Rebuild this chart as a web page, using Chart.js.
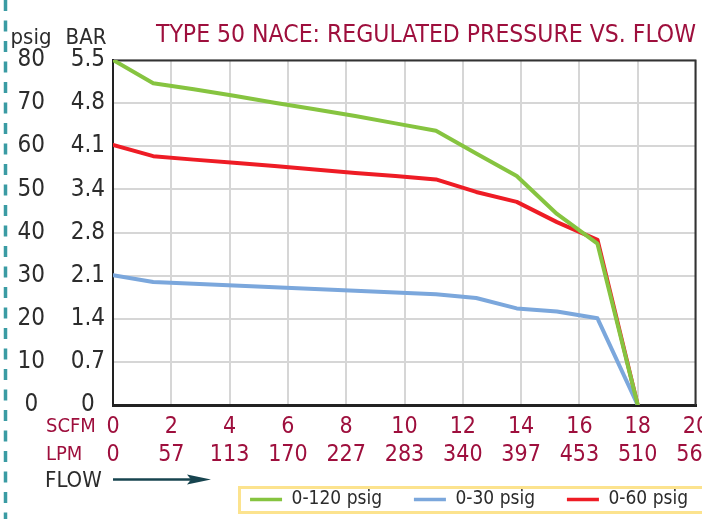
<!DOCTYPE html>
<html><head><meta charset="utf-8">
<script src="https://cdn.jsdelivr.net/npm/chart.js@4.4.1/dist/chart.umd.min.js"></script>
<style>html,body{margin:0;padding:0;background:#fff;overflow:hidden}</style>
</head><body>
<canvas id="c" width="702" height="519"></canvas>
<script>
// ---- data ----
const flowScfm = [0, 1.38, 2.77, 4.15, 5.54, 6.92, 8.31, 9.69, 11.08, 12.46, 13.85, 15.23, 16.62, 18];
const p0_120 = [80, 74.6, 73.2, 71.7, 70.1, 68.6, 67.0, 65.3, 63.6, 58.3, 53.1, 44.3, 37.4, 0];
const p0_30  = [30.1, 28.5, 28.1, 27.7, 27.3, 26.9, 26.5, 26.1, 25.7, 24.8, 22.4, 21.7, 20.1, 0];
const p0_60  = [60.3, 57.7, 56.9, 56.2, 55.4, 54.6, 53.8, 53.1, 52.3, 49.4, 47.1, 42.4, 38.3, 0];
const seriesLabels = ['0-120 psig', '0-30 psig', '0-60 psig'];
const scfmTicks = ['0','2','4','6','8','10','12','14','16','18','20'];
const lpmTicks  = ['0','57','113','170','227','283','340','397','453','510','566'];
const psigTicks = ['0','10','20','30','40','50','60','70','80'];
const barTicks  = ['0','0.7','1.4','2.1','2.8','3.4','4.1','4.8','5.5'];
const titleText = 'TYPE 50 NACE: REGULATED PRESSURE VS. FLOW';

// ---- styles ----
const FONT = "'Liberation Sans Narrow', 'DejaVu Sans Condensed', 'Arial Narrow', sans-serif";
const CRIMSON = '#9e0f3d';
const DARK = '#2c2c2c';
const GRID = '#d6d6d6';
const COLORS = ['#86c440', '#7ba7dc', '#ee1c25'];
const GAP = '\u2002\u2002\u2009\u2009';

const pts = ys => flowScfm.map((x, i) => ({x, y: ys[i]}));

const decor = {
  id: 'decor',
  beforeDatasetsDraw(chart) {
    const {ctx, chartArea: a} = chart;
    ctx.save();
    ctx.strokeStyle = '#333';
    ctx.lineWidth = 2;
    ctx.beginPath();
    ctx.moveTo(a.left, a.top + 0.5);
    ctx.lineTo(a.right - 0.5, a.top + 0.5);
    ctx.lineTo(a.right - 0.5, a.bottom);
    ctx.stroke();
    ctx.restore();
  },
  afterDraw(chart) {
    const {ctx, chartArea: a} = chart;
    ctx.save();
    // dashed teal rule
    ctx.strokeStyle = '#3a9ba3';
    ctx.lineWidth = 3.5;
    ctx.setLineDash([11, 9.5]);
    ctx.beginPath(); ctx.moveTo(5.5, 0); ctx.lineTo(5.5, 519); ctx.stroke();
    ctx.setLineDash([]);
    // column headers
    ctx.fillStyle = DARK;
    ctx.textBaseline = 'middle';
    ctx.textAlign = 'center';
    ctx.font = '22px ' + FONT;
    ctx.fillText('psig', 31, 38);
    ctx.fillText('BAR', 86, 38);
    // row headers
    ctx.textAlign = 'left';
    ctx.font = '20px ' + FONT;
    ctx.fillStyle = CRIMSON;
    ctx.fillText('SCFM', 46, 427);
    ctx.fillText('LPM', 46, 455);
    ctx.fillStyle = DARK;
    ctx.font = '22px ' + FONT;
    ctx.fillText('FLOW', 45, 481);
    // arrow
    ctx.strokeStyle = '#17444f';
    ctx.fillStyle = '#17444f';
    ctx.lineWidth = 2.5;
    ctx.beginPath(); ctx.moveTo(a.left, 479.5); ctx.lineTo(195, 479.5); ctx.stroke();
    ctx.beginPath(); ctx.moveTo(187, 474.5); ctx.lineTo(211, 479.5); ctx.lineTo(187, 484.5); ctx.lineTo(191, 479.5); ctx.closePath(); ctx.fill();
    // legend frame
    ctx.strokeStyle = '#fce38e';
    ctx.lineWidth = 3;
    ctx.strokeRect(239.5, 487.5, 480, 25);
    ctx.restore();
  }
};

new Chart(document.getElementById('c'), {
  type: 'line',
  data: {
    datasets: [
      {label: seriesLabels[0], data: pts(p0_120), borderColor: COLORS[0], backgroundColor: COLORS[0]},
      {label: seriesLabels[1], data: pts(p0_30),  borderColor: COLORS[1], backgroundColor: COLORS[1]},
      {label: seriesLabels[2], data: pts(p0_60),  borderColor: COLORS[2], backgroundColor: COLORS[2]}
    ]
  },
  options: {
    responsive: false,
    animation: false,
    devicePixelRatio: 1,
    layout: {padding: {left: 0, right: 6, top: 0, bottom: 0}},
    elements: {
      line: {borderWidth: 4, tension: 0, fill: false, borderCapStyle: 'round', borderJoinStyle: 'round'},
      point: {radius: 0, hoverRadius: 0}
    },
    scales: {
      x: {
        type: 'linear', position: 'bottom', min: 0, max: 20,
        ticks: {
          stepSize: 2, autoSkip: false, maxRotation: 0, minRotation: 0, padding: 8,
          color: CRIMSON, font: {family: FONT, size: 23, lineHeight: 28 / 23},
          callback: (v, i) => [scfmTicks[i], lpmTicks[i]]
        },
        grid: {color: GRID, lineWidth: 2, drawTicks: false},
        border: {color: '#222', width: 3},
        afterFit(s) { s.height = 77; s.paddingLeft = 0; s.paddingRight = 0; }
      },
      y: {
        type: 'linear', position: 'left', weight: 2, min: 0, max: 80,
        ticks: {
          stepSize: 10, crossAlign: 'center', padding: 5,
          color: DARK, font: {family: FONT, size: 24},
          callback: (v, i) => psigTicks[i]
        },
        grid: {color: GRID, lineWidth: 2, drawTicks: false},
        border: {display: false},
        afterFit(s) { s.width = 50; }
      },
      yBar: {
        type: 'linear', position: 'left', weight: 1, min: 0, max: 80,
        ticks: {
          stepSize: 10, crossAlign: 'center', padding: 8,
          color: DARK, font: {family: FONT, size: 24},
          callback: (v, i) => barTicks[i]
        },
        grid: {display: false, drawTicks: false},
        border: {display: true, color: '#222', width: 2},
        afterFit(s) { s.width = 63; }
      }
    },
    plugins: {
      tooltip: {enabled: false},
      title: {
        display: true, text: titleText, align: 'end', color: CRIMSON,
        font: {family: FONT, size: 24.5, weight: 'normal', lineHeight: 1.2},
        padding: {top: 21.3, bottom: 9.3}
      },
      legend: {
        position: 'bottom', align: 'end',
        labels: {
          boxWidth: 32, boxHeight: 3.5, padding: 8, color: DARK,
          font: {family: FONT, size: 19},
          generateLabels(chart) {
            const items = Chart.defaults.plugins.legend.labels.generateLabels(chart);
            return items.map((it, i) => Object.assign(it, {lineWidth: 0, text: it.text + (i < items.length - 1 ? GAP : '')}));
          }
        }
      }
    }
  },
  plugins: [decor]
});
</script>
</body></html>
